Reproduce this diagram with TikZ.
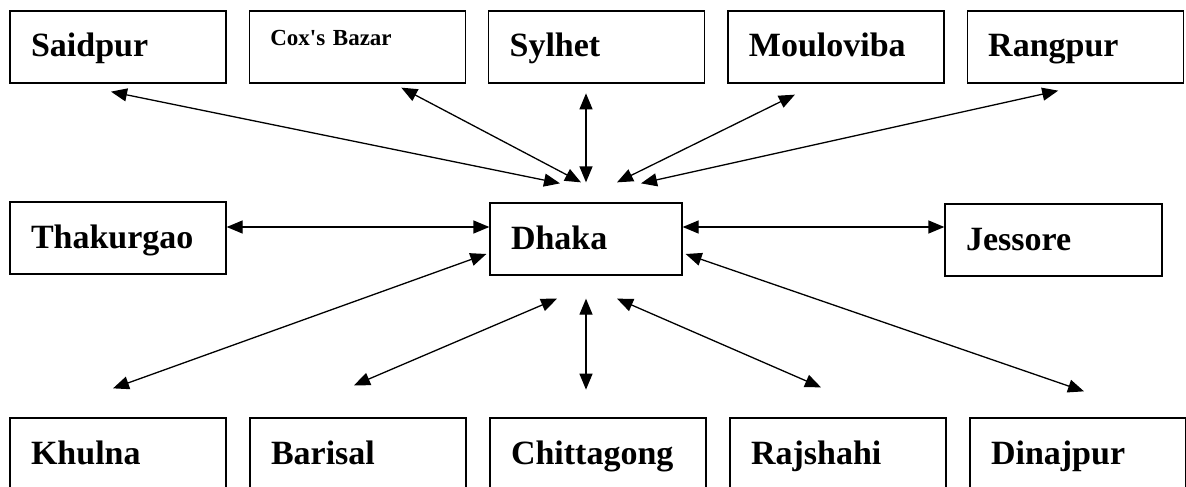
\documentclass[tikz,border=0pt]{standalone}
\usepackage{fontspec}
\setmainfont{Liberation Serif}
\usetikzlibrary{positioning}
\usetikzlibrary{arrows.meta}
\usetikzlibrary{calc}

\begin{document}
\begin{tikzpicture}[
                x=1pt, y=-1pt,
                node distance=0pt and 22pt,
                city/.style={draw, line width=1.3pt, inner xsep=21pt, inner ysep=0pt,
                    text width=174pt, text height=46pt, text depth=26pt, align=left,
                    font=\fontsize{34}{40}\selectfont\bfseries},
                link/.style={line width=1.3pt, {Triangle[length=16pt,width=13pt]}-{Triangle[length=16pt,width=13pt]}}
            ]
            \useasboundingbox (0,0) rectangle (1186,487);
            \clip (0,0) rectangle (1186,487);

            % Define nodes
            \node[city] (saidpur) at (118,47) {Saidpur};
            \node[city, right=of saidpur, text height=35pt, text depth=37pt,
                  font=\fontsize{23}{28}\selectfont\bfseries] (coxsbazar) {Cox\textquotesingle s Bazar};
            \node[city, right=of coxsbazar] (sylhet) {Sylhet};
            \node[city, right=of sylhet] (mouloviba) {Mouloviba};
            \node[city, right=of mouloviba] (rangpur) {Rangpur};

            \node[city] (thakurgao) at (118,238) {Thakurgao};
            \node[city, text width=150pt] (dhaka) at (586,239) {Dhaka};
            \node[city, text width=175pt] (jessore) at (1053.5,240) {Jessore};

            \node[city] (khulna) at (118,454) {Khulna};
            \node[city, right=22.7pt of khulna] (barisal) {Barisal};
            \node[city, right=22.7pt of barisal] (chittagong) {Chittagong};
            \node[city, right=22.7pt of chittagong] (rajshahi) {Rajshahi};
            \node[city, right=22.7pt of rajshahi] (dinajpur) {Dinajpur};

            % Arrows to the top row
            \draw[link] ($(saidpur.south)+(-7,8)$) -- ($(dhaka.north)+(-26,-19)$);
            \draw[link] ($(coxsbazar.south)+(44,4)$) -- ($(dhaka.north)+(-5,-20)$);
            \draw[link] ($(dhaka.north)+(0,-109)$) -- ($(dhaka.north)+(0,-20)$);
            \draw[link] ($(mouloviba.south)+(-41,11)$) -- ($(dhaka.north)+(31,-20)$);
            \draw[link] ($(rangpur.south)+(-17,7)$) -- ($(dhaka.north)+(55,-19)$);

            % Arrows in the middle row
            \draw[link] ($(thakurgao.east)+(0,-11)$) -- ($(dhaka.west)+(0,-12)$);
            \draw[link] ($(dhaka.east)+(0,-12)$) -- ($(jessore.west)+(0,-13)$);

            % Arrows to the bottom row
            \draw[link] ($(dhaka.west)+(-3,15)$) -- ($(khulna.north)+(-5,-29)$);
            \draw[link] ($(dhaka.south)+(-29,23)$) -- ($(barisal.north)+(-4,-32)$);
            \draw[link] ($(dhaka.south)+(0,23)$) -- ($(dhaka.south)+(0,114)$);
            \draw[link] ($(dhaka.south)+(31,23)$) -- ($(rajshahi.north)+(-17,-30)$);
            \draw[link] ($(dhaka.east)+(3,15)$) -- ($(dinajpur.north)+(6,-26)$);

\end{tikzpicture}
\end{document}
